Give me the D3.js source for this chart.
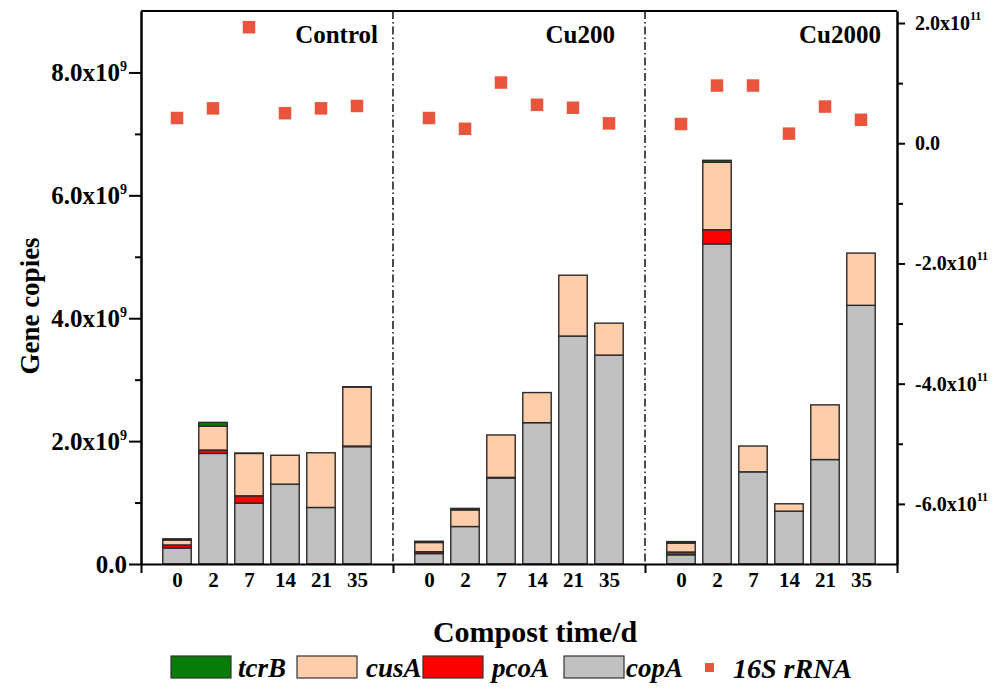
<!DOCTYPE html>
<html>
<head>
<meta charset="utf-8">
<script src="https://cdn.jsdelivr.net/npm/d3@7"></script>
<style>
  body { margin: 0; background: #fff; }
  text { font-family: "Liberation Serif", "Times New Roman", serif; }
</style>
</head>
<body>
<div id="chart"></div>
<script>
// treatments and sampling days
const groups = ["Control", "Cu200", "Cu2000"];
const days = ["0", "2", "7", "14", "21", "35"];

// gene copies, x10^9 (Control x6, Cu200 x6, Cu2000 x6)
const copA = [0.26, 1.80, 0.99, 1.30, 0.92, 1.91, 0.17, 0.61, 1.40, 2.30, 3.71, 3.40, 0.15, 5.21, 1.50, 0.86, 1.70, 4.21];
const pcoA = [0.05, 0.055, 0.12, 0, 0, 0.01, 0.03, 0, 0.01, 0, 0, 0, 0.045, 0.23, 0, 0, 0, 0];
const cusA = [0.08, 0.39, 0.69, 0.47, 0.89, 0.96, 0.15, 0.27, 0.69, 0.49, 0.99, 0.52, 0.145, 1.10, 0.42, 0.12, 0.89, 0.85];
const tcrB = [0.02, 0.06, 0.005, 0, 0, 0.005, 0.02, 0.025, 0, 0, 0, 0, 0.025, 0.03, 0, 0, 0, 0];
// 16S rRNA copies, x10^11, right axis
const rRNA16S = [0.42, 0.58, 1.93, 0.50, 0.58, 0.62, 0.42, 0.24, 1.01, 0.64, 0.59, 0.33, 0.32, 0.96, 0.96, 0.16, 0.61, 0.39];

// axis ticks
const leftTicks = [0, 2, 4, 6, 8];        // x10^9
const leftMinor = [1, 3, 5, 7];
const rightTicks = [2, 0, -2, -4, -6];    // x10^11
const rightMinor = [1, -1, -3, -5];

const genes = ["copA", "pcoA", "cusA", "tcrB"];
const colors = { tcrB: "#077d07", cusA: "#ffcdaa", pcoA: "#ff0000", copA: "#c0c0c0" };

const W = 1001, H = 690;
const mLeft = 141, mRight = 897, mTop = 11, mBottom = 564;

const svg = d3.select("#chart").append("svg")
    .attr("width", W)
    .attr("height", H);

// scales
const xGroup = d3.scaleBand().domain(groups).range([mLeft, mRight]).padding(0);
const xDay = d3.scalePoint().domain(days).range([0, xGroup.bandwidth()]).padding(1);
const barW = xDay.step() * 0.79;
const yLeft = d3.scaleLinear().domain([0, 9]).range([mBottom, mTop]);
const yRight = d3.scaleLinear().domain([-7, 2.2]).range([mBottom, mTop]);

// table for stacking
const rows = [];
groups.forEach((g, gi) => days.forEach((d, di) => {
    const i = gi * days.length + di;
    rows.push({ group: g, day: d, copA: copA[i], pcoA: pcoA[i], cusA: cusA[i], tcrB: tcrB[i], rrna: rRNA16S[i] });
}));
const series = d3.stack().keys(genes)(rows);

const xc = r => xGroup(r.group) + xDay(r.day);

// bars
svg.append("g").selectAll("g")
    .data(series)
    .join("g")
    .attr("fill", s => colors[s.key])
    .selectAll("rect")
    .data(s => s.filter(p => p[1] - p[0] > 0))
    .join("rect")
    .attr("x", p => xc(p.data) - barW / 2)
    .attr("width", barW)
    .attr("y", p => yLeft(p[1]))
    .attr("height", p => yLeft(p[0]) - yLeft(p[1]))
    .attr("stroke", "#2a2a2a")
    .attr("stroke-width", 1.4);

// dash-dot separators
svg.append("g").selectAll("line")
    .data(groups.slice(1))
    .join("line")
    .attr("x1", g => xGroup(g)).attr("x2", g => xGroup(g))
    .attr("y1", mTop).attr("y2", mBottom)
    .attr("stroke", "#000")
    .attr("stroke-width", 1.4)
    .attr("stroke-dasharray", "8,3,1.5,3");

// 16S rRNA squares
const sq = 12.5;
svg.append("g").selectAll("rect")
    .data(rows)
    .join("rect")
    .attr("x", r => xc(r) - sq / 2)
    .attr("y", r => yRight(r.rrna) - sq / 2)
    .attr("width", sq)
    .attr("height", sq)
    .attr("fill", "#e8553c");

// group titles (right edge inset differs a little per panel)
const titleInset = [15, 30, 16];
svg.append("g").selectAll("text")
    .data(groups)
    .join("text")
    .attr("x", (g, i) => xGroup(g) + xGroup.bandwidth() - titleInset[i])
    .attr("y", 43)
    .attr("text-anchor", "end")
    .attr("font-size", 25)
    .attr("font-weight", "bold")
    .text(g => g);

// label with superscript exponent
function sciLabel(sel, exp, supSize) {
    sel.each(function (d) {
        const t = d3.select(this).text(null);
        if (d === 0) { t.append("tspan").text("0.0"); return; }
        t.append("tspan").text(d.toFixed(1) + "x10");
        t.append("tspan").attr("dy", -10).attr("font-size", supSize).text(exp);
    });
}

// left axis
const gl = svg.append("g").attr("transform", `translate(${mLeft},0)`);
gl.append("g")
    .call(d3.axisLeft(yLeft).tickValues(leftMinor).tickSize(6).tickFormat("").tickSizeOuter(0));
gl.append("g")
    .call(d3.axisLeft(yLeft).tickValues(leftTicks).tickSize(12).tickPadding(2).tickSizeOuter(0))
    .call(g => g.selectAll("text").call(sciLabel, "9", 14));
gl.selectAll("path, line").attr("stroke", "#000").attr("stroke-width", 2);
gl.selectAll("text")
    .attr("font-size", 25)
    .attr("font-weight", "bold")
    .attr("font-family", "Liberation Serif, serif")
    .attr("fill", "#000");

// right axis
const gr = svg.append("g").attr("transform", `translate(${mRight},0)`);
gr.append("g")
    .call(d3.axisRight(yRight).tickValues(rightMinor).tickSize(6).tickFormat("").tickSizeOuter(0));
gr.append("g")
    .call(d3.axisRight(yRight).tickValues(rightTicks).tickSize(8).tickPadding(10).tickSizeOuter(0))
    .call(g => g.selectAll("text").call(sciLabel, "11", 12));
gr.selectAll("path, line").attr("stroke", "#000").attr("stroke-width", 2);
gr.selectAll("text")
    .attr("font-size", 20)
    .attr("font-weight", "bold")
    .attr("font-family", "Liberation Serif, serif")
    .attr("fill", "#000");

// top frame
svg.append("line")
    .attr("x1", mLeft).attr("x2", mRight)
    .attr("y1", mTop).attr("y2", mTop)
    .attr("stroke", "#000").attr("stroke-width", 2);

// bottom axis: ticks at group boundaries
const xBound = d3.scaleLinear().domain([0, groups.length]).range([mLeft, mRight]);
svg.append("g")
    .attr("transform", `translate(0,${mBottom})`)
    .call(d3.axisBottom(xBound).tickValues(d3.range(groups.length + 1)).tickSize(9).tickFormat("").tickSizeOuter(0))
    .call(g => g.selectAll("path, line").attr("stroke", "#000").attr("stroke-width", 2));

// day labels per group
groups.forEach(grp => {
    svg.append("g")
        .attr("transform", `translate(${xGroup(grp)},${mBottom})`)
        .call(d3.axisBottom(xDay).tickSize(0).tickPadding(8))
        .call(g => g.select(".domain").remove())
        .selectAll("text")
        .attr("font-size", 21)
        .attr("font-weight", "bold")
        .attr("font-family", "Liberation Serif, serif")
        .attr("fill", "#000");
});

// axis titles
svg.append("text")
    .attr("x", 535)
    .attr("y", 642)
    .attr("text-anchor", "middle")
    .attr("font-size", 30)
    .attr("font-weight", "bold")
    .text("Compost time/d");

svg.append("text")
    .attr("transform", `translate(39,306) rotate(-90)`)
    .attr("text-anchor", "middle")
    .attr("font-size", 27)
    .attr("font-weight", "bold")
    .text("Gene copies");

// legend
const legendItems = [
    { key: "tcrB", box: 171, label: 238 },
    { key: "cusA", box: 297, label: 366 },
    { key: "pcoA", box: 423, label: 492 },
    { key: "copA", box: 564, label: 626 }
];
const lg = svg.append("g");
lg.selectAll("rect")
    .data(legendItems)
    .join("rect")
    .attr("x", d => d.box)
    .attr("y", 656)
    .attr("width", 60)
    .attr("height", 22)
    .attr("fill", d => colors[d.key])
    .attr("stroke", "#333")
    .attr("stroke-width", 1.2);
lg.selectAll("text.gene")
    .data(legendItems)
    .join("text")
    .attr("class", "gene")
    .attr("x", d => d.label)
    .attr("y", 677)
    .attr("font-size", 27)
    .attr("font-style", "italic")
    .attr("font-weight", "bold")
    .text(d => d.key);
lg.append("rect")
    .attr("x", 705).attr("y", 663)
    .attr("width", 9).attr("height", 9)
    .attr("fill", "#e8553c");
lg.append("text")
    .attr("x", 733)
    .attr("y", 678)
    .attr("font-size", 28)
    .attr("font-style", "italic")
    .attr("font-weight", "bold")
    .text("16S rRNA");
</script>
</body>
</html>
